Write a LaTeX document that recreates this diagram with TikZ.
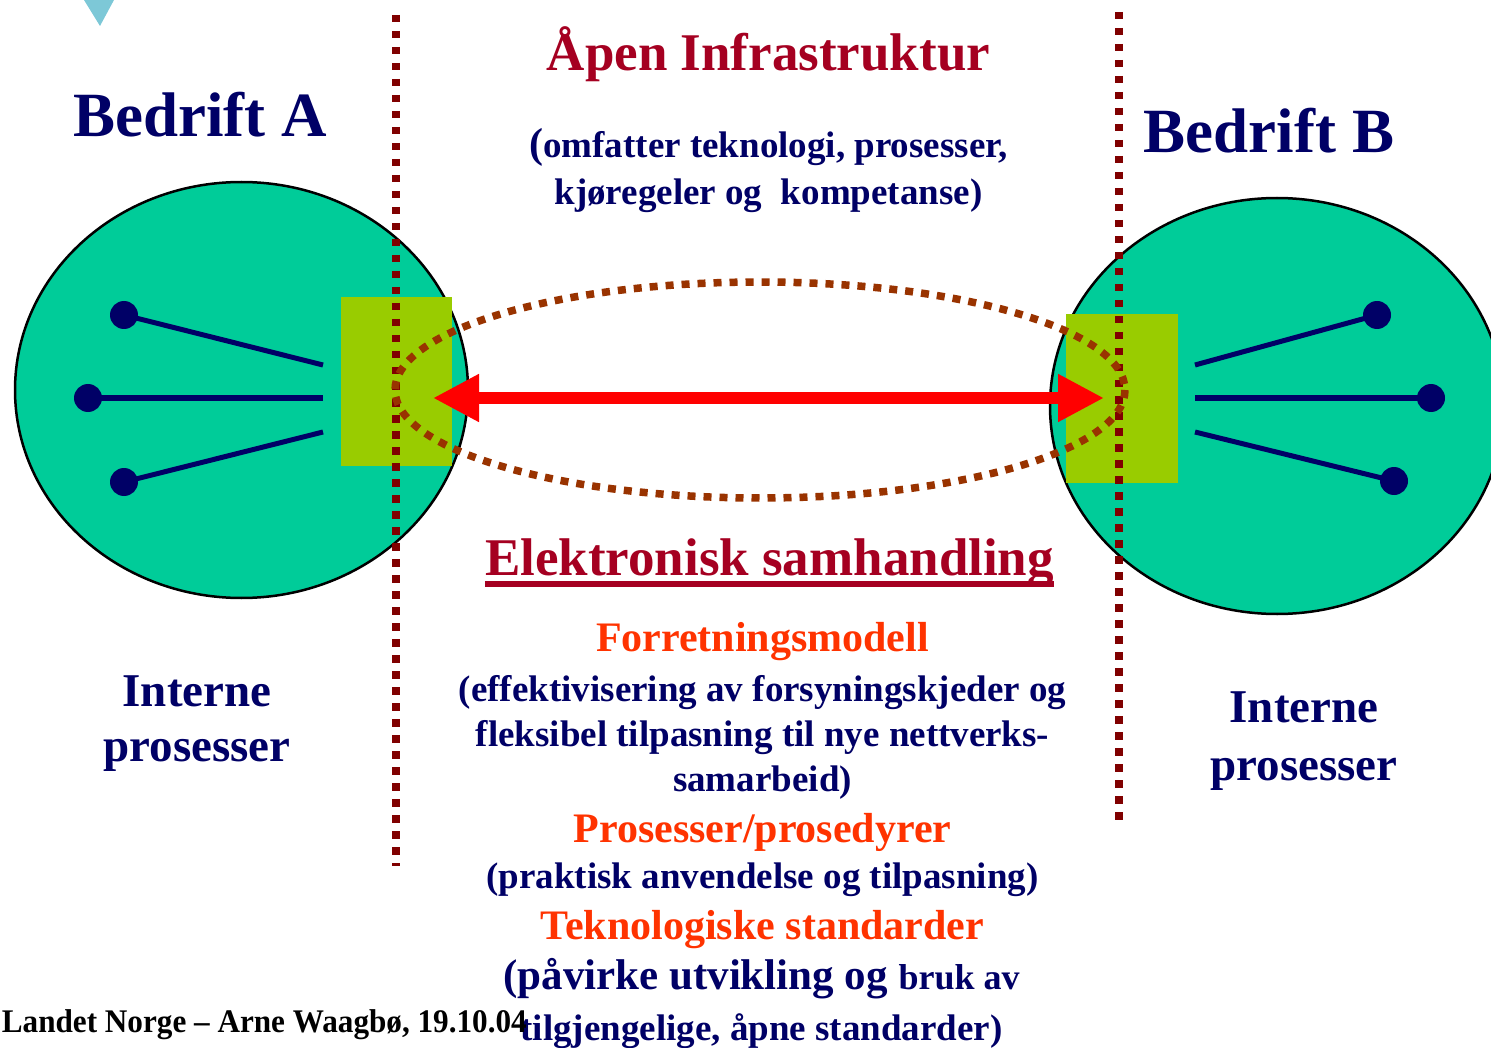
\documentclass[tikz,border=0pt]{standalone}
\usepackage{fontspec}
\setmainfont{Liberation Serif}
\usetikzlibrary{arrows.meta}

\definecolor{tealfill}{RGB}{0,204,153}
\definecolor{limefill}{RGB}{153,204,0}
\definecolor{navy}{RGB}{0,0,102}
\definecolor{crimson}{RGB}{165,0,33}
\definecolor{flame}{RGB}{255,51,0}
\definecolor{wine}{RGB}{128,0,0}
\definecolor{rust}{RGB}{153,51,0}
\definecolor{paleblue}{RGB}{125,200,215}

\tikzset{
  txt/.style={inner sep=0pt, anchor=base, font=\bfseries\fontsize{#1}{#1}\selectfont},
  navytxt/.style={txt=#1, text=navy},
  titletxt/.style={txt=#1, text=crimson},
  flametxt/.style={txt=#1, text=flame},
  borderline/.style={wine, line width=7.5pt, dash pattern=on 7.5pt off 8.5pt},
  spoke/.style={navy, line width=5pt},
  hub/.style={navy, fill=navy}
}

\begin{document}
\begin{tikzpicture}[x=1pt, y=-1pt]

    % Page frame in pixels of the slide
    \useasboundingbox (0,0) rectangle (1491,1048);
    \clip (0,0) rectangle (1491,1048);

    % Leftover of a bullet at the top
    \fill[paleblue] (84,0) -- (114,0) -- (100,26) -- cycle;

    % The two companies
    \filldraw[fill=tealfill, draw=black, line width=2.5pt] (241.5,390) ellipse (226.5 and 208);
    \filldraw[fill=tealfill, draw=black, line width=2.5pt] (1277,406) ellipse (227 and 208);

    % Interfaces on the edge of each company
    \fill[limefill] (341,297) rectangle (452,466);
    \fill[limefill] (1066,314) rectangle (1178,483);

    % Internal processes of A
    \coordinate (A1) at (124,315);
    \coordinate (A2) at (88,398);
    \coordinate (A3) at (124,482);
    \draw[spoke] (A1) -- (323,365);
    \draw[spoke] (A2) -- (323,398);
    \draw[spoke] (A3) -- (323,432);
    \fill[hub] (A1) circle (14);
    \fill[hub] (A2) circle (14);
    \fill[hub] (A3) circle (14);

    % Internal processes of B
    \coordinate (B1) at (1377,315);
    \coordinate (B2) at (1431,398);
    \coordinate (B3) at (1394,481);
    \draw[spoke] (1195,365) -- (B1);
    \draw[spoke] (1195,398) -- (B2);
    \draw[spoke] (1195,432) -- (B3);
    \fill[hub] (B1) circle (14);
    \fill[hub] (B2) circle (14);
    \fill[hub] (B3) circle (14);

    % Company borders
    \draw[borderline] (396,15) -- (396,866);
    \draw[borderline] (1119,12) -- (1119,822);

    % The open infrastructure between them
    \draw[rust, line width=7.5pt, dash pattern=on 8pt off 8pt] (760,390) ellipse (365 and 108);

    % Exchange between A and B
    \coordinate (endA) at (433,398);
    \coordinate (endB) at (1104,398);
    \draw[red, line width=11pt, {Triangle[length=46pt,width=45pt]}-{Triangle[length=46pt,width=45pt]}] (endA) -- (endB);

    % Company names
    \node[navytxt=63] (bedriftA) at (200,137) {Bedrift A};
    \node[navytxt=63] (bedriftB) at (1269,153) {Bedrift B};

    % Top text
    \node[titletxt=53] (apen) at (768.5,71) {Åpen Infrastruktur};
    \node[navytxt=37] (omfatter1) at (768.5,158) {{\fontsize{42}{42}\selectfont(}omfatter teknologi, prosesser,};
    \node[navytxt=37] (omfatter2) at (768.5,205) {kjøregeler og~ kompetanse)};

    % Internal processes
    \node[navytxt=47] (interneA1) at (197,706) {Interne};
    \node[navytxt=47] (interneA2) at (197,761) {prosesser};
    \node[navytxt=47] (interneB1) at (1304,722) {Interne};
    \node[navytxt=47] (interneB2) at (1304,780) {prosesser};

    % Middle text
    \node[titletxt=53] (elektronisk) at (769.5,575) {Elektronisk samhandling};
    \draw[crimson, line width=6pt] ([yshift=-9pt]elektronisk.base west) -- ([yshift=-9pt]elektronisk.base east);
    \node[flametxt=42] (forretning) at (762.5,651) {Forretningsmodell};
    \node[navytxt=37] (effekt1) at (762.5,701) {(effektivisering av forsyningskjeder og};
    \node[navytxt=37] (effekt2) at (762.5,746) {fleksibel tilpasning til nye nettverks-};
    \node[navytxt=37] (effekt3) at (762.5,791) {samarbeid)};
    \node[flametxt=42] (prosesser) at (762.5,842) {Prosesser/prosedyrer};
    \node[navytxt=37] (praktisk) at (762.5,888) {(praktisk anvendelse og tilpasning)};
    \node[flametxt=42] (teknologi) at (762.5,939) {Teknologiske standarder};
    \node[navytxt=43] (pavirke1) at (761.5,989) {(påvirke utvikling og {\fontsize{36}{36}\selectfont bruk av}};
    \node[navytxt=37] (pavirke2) at (761.5,1040) {tilgjengelige, åpne standarder)};

    % Footer
    \node[txt=33, anchor=base east] (footer) at (527,1032) {\scalebox{0.945}[1]{Landet Norge – Arne Waagbø, 19.10.04}};

\end{tikzpicture}
\end{document}
